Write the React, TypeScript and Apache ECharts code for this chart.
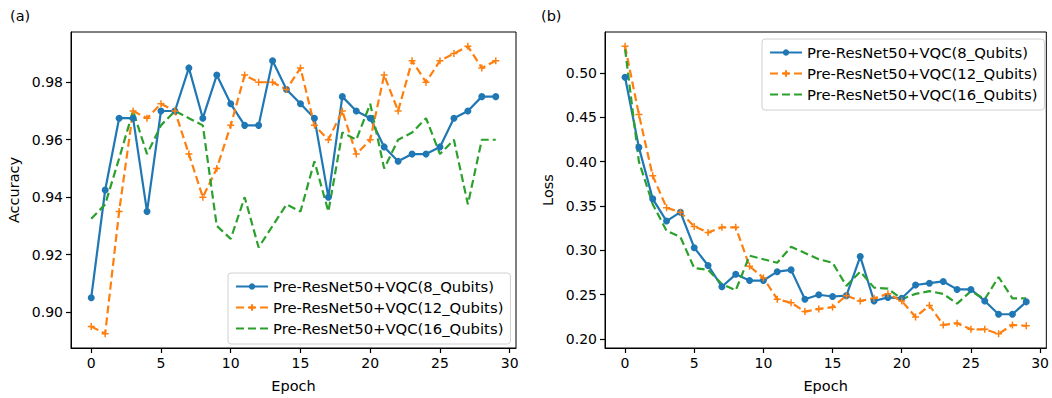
import React, { useEffect, useRef } from "react";
import * as echarts from "echarts";

const epochs: number[] = Array.from({ length: 30 }, (_, i) => i);
const seriesNames = [
  "Pre-ResNet50+VQC(8_Qubits)",
  "Pre-ResNet50+VQC(12_Qubits)",
  "Pre-ResNet50+VQC(16_Qubits)",
];

const acc8 = [0.905, 0.9425, 0.9675, 0.9675, 0.935, 0.97, 0.97, 0.985, 0.9675, 0.9825, 0.9725, 0.965, 0.965, 0.9875, 0.9775, 0.9725, 0.9675, 0.94, 0.975, 0.97, 0.9675, 0.9575, 0.9525, 0.955, 0.955, 0.9575, 0.9675, 0.97, 0.975, 0.975];
const acc12 = [0.895, 0.8925, 0.935, 0.97, 0.9675, 0.9725, 0.97, 0.955, 0.94, 0.95, 0.965, 0.9825, 0.98, 0.98, 0.9775, 0.985, 0.965, 0.96, 0.97, 0.955, 0.96, 0.9825, 0.97, 0.9875, 0.98, 0.9875, 0.99, 0.9925, 0.985, 0.9875];
const acc16 = [0.9325, 0.9375, 0.9535, 0.97, 0.955, 0.965, 0.97, 0.9675, 0.965, 0.93, 0.9255, 0.94, 0.9225, 0.93, 0.9375, 0.935, 0.9525, 0.935, 0.9625, 0.96, 0.9725, 0.95, 0.96, 0.9625, 0.9675, 0.955, 0.96, 0.9375, 0.96, 0.96];

const loss8 = [0.495, 0.416, 0.358, 0.333, 0.343, 0.303, 0.283, 0.259, 0.273, 0.266, 0.266, 0.276, 0.278, 0.245, 0.25, 0.248, 0.249, 0.293, 0.243, 0.247, 0.246, 0.261, 0.263, 0.265, 0.256, 0.256, 0.243, 0.228, 0.228, 0.242];
const loss12 = [0.53, 0.453, 0.384, 0.348, 0.343, 0.327, 0.32, 0.326, 0.326, 0.282, 0.269, 0.245, 0.241, 0.231, 0.234, 0.236, 0.249, 0.243, 0.246, 0.251, 0.243, 0.225, 0.238, 0.216, 0.218, 0.211, 0.211, 0.206, 0.216, 0.215];
const loss16 = [0.527, 0.4, 0.352, 0.322, 0.315, 0.28, 0.278, 0.262, 0.255, 0.294, 0.29, 0.286, 0.304, 0.297, 0.29, 0.286, 0.26, 0.276, 0.258, 0.257, 0.245, 0.251, 0.254, 0.251, 0.24, 0.254, 0.245, 0.27, 0.246, 0.246];

const xTicks = [0, 5, 10, 15, 20, 25, 30];
const accTicks = [0.9, 0.92, 0.94, 0.96, 0.98];
const lossTicks = [0.2, 0.25, 0.3, 0.35, 0.4, 0.45, 0.5];

const COLORS = ["#1f77b4", "#ff7f0e", "#2ca02c"];
const FONT = "DejaVu Sans";
const PLUS = "path://M5,0L5,10M0,5L10,5";
const TICK_COLOR = "#000";

function pairs(vals: number[]) {
  return epochs.map((e, i) => [e, vals[i]]);
}

function makeSeries(gridIdx: number, data: number[][]) {
  return [
    {
      name: seriesNames[0],
      type: "line",
      xAxisIndex: gridIdx,
      yAxisIndex: gridIdx,
      data: pairs(data[0]),
      symbol: "circle",
      symbolSize: 7,
      itemStyle: { color: COLORS[0] },
      lineStyle: { color: COLORS[0], width: 2.2 },
    },
    {
      name: seriesNames[1],
      type: "line",
      xAxisIndex: gridIdx,
      yAxisIndex: gridIdx,
      data: pairs(data[1]),
      symbol: PLUS,
      symbolSize: 7,
      itemStyle: { color: COLORS[1], borderColor: COLORS[1], borderWidth: 1.5 },
      lineStyle: { color: COLORS[1], width: 2.2, type: [8, 4] },
    },
    {
      name: seriesNames[2],
      type: "line",
      xAxisIndex: gridIdx,
      yAxisIndex: gridIdx,
      data: pairs(data[2]),
      symbol: "none",
      itemStyle: { color: COLORS[2] },
      lineStyle: { color: COLORS[2], width: 2.2, type: [8, 4] },
    },
  ];
}

function xAxisCfg(gridIndex: number) {
  return {
    type: "value",
    gridIndex,
    position: "bottom",
    min: -1.45,
    max: 30.45,
    name: "Epoch",
    nameLocation: "middle",
    nameGap: 30,
    nameTextStyle: { color: "#000", fontSize: 14.5, fontFamily: FONT },
    axisLine: { show: true, onZero: false, lineStyle: { color: "#000", width: 1 } },
    splitLine: { show: false },
    axisTick: { show: true, inside: false, customValues: xTicks, length: 5, lineStyle: { color: TICK_COLOR, width: 1.2 } },
    axisLabel: { customValues: xTicks, color: "#000", fontSize: 14, fontFamily: FONT, margin: 8 },
  };
}

function yAxisCfg(gridIndex: number, name: string, min: number, max: number, ticks: number[], gap: number) {
  return {
    type: "value",
    gridIndex,
    position: "left",
    min,
    max,
    name,
    nameLocation: "middle",
    nameGap: gap,
    nameTextStyle: { color: "#000", fontSize: 14.5, fontFamily: FONT },
    axisLine: { show: true, onZero: false, lineStyle: { color: "#000", width: 1 } },
    splitLine: { show: false },
    axisTick: { show: true, inside: false, customValues: ticks, length: 5, lineStyle: { color: TICK_COLOR, width: 1.2 } },
    axisLabel: {
      customValues: ticks,
      color: "#000",
      fontSize: 14,
      fontFamily: FONT,
      margin: 8,
      formatter: (v: number) => v.toFixed(2),
    },
  };
}

function legendCfg(left: number, top: number) {
  return {
    left,
    top,
    orient: "vertical",
    data: [
      { name: seriesNames[0] },
      { name: seriesNames[1] },
      { name: seriesNames[2], itemStyle: { opacity: 0 } },
    ],
    itemWidth: 32,
    itemHeight: 8,
    itemGap: 6,
    padding: [6, 7, 8, 7],
    borderColor: "#d0d0d0",
    borderWidth: 1,
    borderRadius: 3,
    backgroundColor: "#fff",
    selectedMode: false,
    textStyle: { color: "#000", fontSize: 14.8, fontFamily: FONT },
  };
}

export default function App() {
  const ref = useRef<HTMLDivElement>(null);
  useEffect(() => {
    if (!ref.current) return;
    const chart = echarts.init(ref.current, undefined, { renderer: "svg" });
    chart.setOption({
      animation: false,
      backgroundColor: "#fff",
      textStyle: { fontFamily: FONT },
      grid: [
        { left: 71, top: 32, width: 445, height: 316, show: true, borderColor: "#000", borderWidth: 1, backgroundColor: "transparent" },
        { left: 605, top: 32, width: 442, height: 318, show: true, borderColor: "#000", borderWidth: 1, backgroundColor: "transparent" },
      ],
      xAxis: [xAxisCfg(0), xAxisCfg(1)],
      yAxis: [
        yAxisCfg(0, "Accuracy", 0.8875, 0.9975, accTicks, 50),
        yAxisCfg(1, "Loss", 0.19, 0.546, lossTicks, 50),
      ],
      legend: [legendCfg(228, 273), legendCfg(762, 39)],
      graphic: [
        { type: "text", left: 10, top: 8, style: { text: "(a)", fontSize: 14.5, fontFamily: FONT, fill: "#000" } },
        { type: "text", left: 541, top: 8, style: { text: "(b)", fontSize: 14.5, fontFamily: FONT, fill: "#000" } },
      ],
      series: [
        ...makeSeries(0, [acc8, acc12, acc16]),
        ...makeSeries(1, [loss8, loss12, loss16]),
      ],
    });
    return () => chart.dispose();
  }, []);
  return (
    <div
      ref={ref}
      style={{ position: "absolute", left: 0, top: 0, width: 1052, height: 398 }}
    />
  );
}
